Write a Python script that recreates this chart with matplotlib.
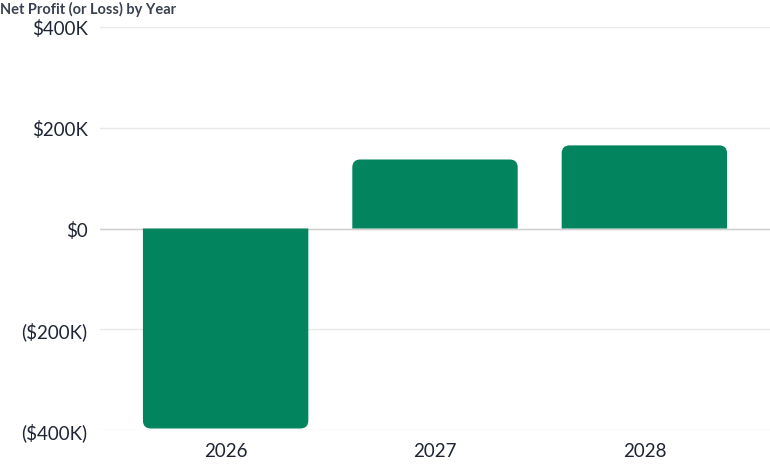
import matplotlib
matplotlib.use("Agg")
import matplotlib.pyplot as plt
from matplotlib.patches import PathPatch
from matplotlib.path import Path
from matplotlib.ticker import FuncFormatter

years = ["2026", "2027", "2028"]
net_profit = [-397000, 137000, 165000]
y_ticks = [-400000, -200000, 0, 200000, 400000]

plt.rcParams['font.family'] = ['Lato', 'DejaVu Sans']

BAR_COLOR = "#02845f"
TEXT_COLOR = "#1f2533"

fig = plt.figure(figsize=(7.7, 4.77), dpi=100)
ax = fig.add_axes([100/770, 1 - 431/477, 670/770, (431 - 28)/477])

ax.set_xlim(-0.6, 2.6)
ax.set_ylim(-400000, 400000)
ax.set_yticks(y_ticks)
ax.set_xticks(range(len(years)))
ax.set_xticklabels(years)

def fmt(v, pos):
    if v == 0:
        return "$0"
    s = f"${abs(v)/1000:.0f}K"
    return f"({s})" if v < 0 else s

ax.yaxis.set_major_formatter(FuncFormatter(fmt))

for s in ax.spines.values():
    s.set_visible(False)
ax.tick_params(axis='both', length=0, labelsize=13.5, colors=TEXT_COLOR)
ax.tick_params(axis='y', pad=9)
ax.tick_params(axis='x', pad=9)
ax.grid(axis='y', color="#e8e8e8", linewidth=1)
ax.set_axisbelow(True)
ax.axhline(0, color="#cfcfcf", linewidth=1, zorder=1)

# rounded bars (rounded only on the far end)
fig.canvas.draw()
inv = ax.transData.inverted()
p0 = inv.transform((0, 0))
p1 = inv.transform((1, 1))
dx_per_px = p1[0] - p0[0]
dy_per_px = p1[1] - p0[1]
radius_px = 8
rx = radius_px * dx_per_px
ry = radius_px * dy_per_px
width = 0.79

def bar_path(xc, v):
    xl = xc - width / 2
    xr = xc + width / 2
    sgn = 1 if v >= 0 else -1
    r = ry * sgn
    verts = [
        (xl, 0),
        (xl, v - r),
        (xl, v), (xl + rx, v),
        (xr - rx, v),
        (xr, v), (xr, v - r),
        (xr, 0),
        (xl, 0),
    ]
    codes = [Path.MOVETO, Path.LINETO, Path.CURVE3, Path.CURVE3, Path.LINETO,
             Path.CURVE3, Path.CURVE3, Path.LINETO, Path.CLOSEPOLY]
    return Path(verts, codes)

for i, v in enumerate(net_profit):
    ax.add_patch(PathPatch(bar_path(i, v), facecolor=BAR_COLOR,
                           edgecolor="none", zorder=2))

fig.text(0, 1 - 9/477, "Net Profit (or Loss) by Year", ha="left", va="center",
         fontsize=10.5, fontweight="bold", color="#3a4150")

fig.savefig("out.png", dpi=100)
